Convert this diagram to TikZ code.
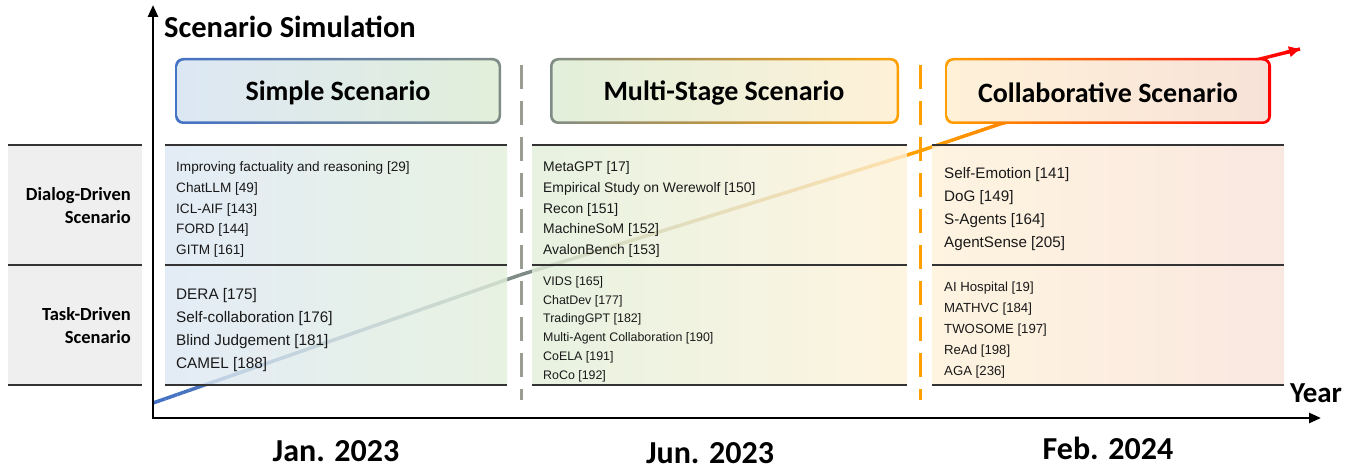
\documentclass[tikz,border=0pt]{standalone}
\usepackage{fontspec}
\setmainfont{Liberation Sans}
\newfontfamily\calib{Carlito}
\usetikzlibrary{arrows.meta,calc}
\definecolor{cBlue}{HTML}{4472C4}
\definecolor{cGray}{HTML}{7F8C86}
\definecolor{cOrange}{HTML}{FFA000}
\definecolor{cRed}{HTML}{FF0000}
\definecolor{pBlue}{HTML}{DCE7F4}
\definecolor{pGreen}{HTML}{E2EFDA}
\definecolor{pCream}{HTML}{FEF1D8}
\definecolor{pPeach}{HTML}{F8E2D8}
\definecolor{labGray}{HTML}{EFEFEF}
\definecolor{dashGray}{HTML}{9A9E92}
\newcommand\gradseg[5]{%
  \foreach \i in {0,...,#5}{%
    \pgfmathtruncatemacro\p{round(100*\i/#5)}%
    \draw[trend, color=#4!\p!#3] ($(#1)!{\i/(#5+1)}!(#2)$) -- ($(#1)!{(\i+1)/(#5+1)}!(#2)$);
  }}
\newcommand\fs[2]{\fontsize{#1}{#2}\selectfont}
\begin{document}
\begin{tikzpicture}[x=1pt,y=-1pt,
  trend/.style={line width=3.5pt},
  axis/.style={line width=2.6pt,-{Triangle[length=12pt,width=10pt]}},
  rule/.style={draw=black!80,line width=1.2pt},
  cell/.style={anchor=west,align=left,inner sep=0pt,text=black!90},
  hdr/.style={font=\calib\bfseries\fs{28}{30}},
  lab/.style={font=\calib\bfseries\fs{18.5}{23},align=right,anchor=east,inner sep=0pt},
  date/.style={font=\calib\bfseries\fs{32}{34}},
  vdash/.style={line width=3pt,dash pattern=on 24pt off 12pt}]
\useasboundingbox (0,0) rectangle (1360,470);
% trend curve
\coordinate (tA) at (153,403);
\coordinate (tB) at (520,275);
\coordinate (tC) at (920,151);
\coordinate (tE) at (1000,124);
\coordinate (tD) at (1300,49);
\gradseg{tA}{tB}{cBlue}{cGray}{29}
\gradseg{tB}{tC}{cGray}{cOrange}{29}
\gradseg{tC}{tE}{cOrange}{cOrange!85!cRed}{7}
\gradseg{tE}{tD}{cOrange!85!cRed}{cRed}{19}
\draw[line width=3.5pt,cRed,-{Triangle[length=11pt,width=10pt]}] ($(tE)!0.95!(tD)$) -- (tD);
% label column
\fill[labGray] (8,145) rectangle (142,385);
\draw[rule] (8,145) -- (142,145) (8,265) -- (142,265) (8,385) -- (142,385);
\node[lab] (dd) at (131,206) {Dialog-Driven\\Scenario};
\node[lab] (td) at (131,326) {Task-Driven\\Scenario};
% panels
\shade[left color=pBlue,middle color=white,right color=pGreen,fill opacity=0.8] (165,145) rectangle (507,385);
\shade[left color=pGreen,middle color=white,right color=pCream,fill opacity=0.8] (532,145) rectangle (907,385);
\shade[left color=pCream,middle color=white,right color=pPeach,fill opacity=0.8] (932,145) rectangle (1284,385);
\draw[rule] (165,145) -- (507,145) (165,265) -- (507,265) (165,385) -- (507,385);
\draw[rule] (532,145) -- (907,145) (532,265) -- (907,265) (532,385) -- (907,385);
\draw[rule] (932,145) -- (1284,145) (932,265) -- (1284,265) (932,385) -- (1284,385);
% dashed separators
\draw[vdash,dashGray] (521,65) -- (521,400);
\draw[vdash,cOrange] (920,65) -- (920,400);
% cells
\node[cell,font=\fs{13.6}{20.6}] (c11) at (176,209.5) {Improving factuality and reasoning [29]\\ChatLLM [49]\\ICL-AIF [143]\\FORD [144]\\GITM [161]};
\node[cell,font=\fs{15.3}{22.8}] (c12) at (176,330) {DERA [175]\\Self-collaboration [176]\\Blind Judgement [181]\\CAMEL [188]};
\node[cell,font=\fs{13.9}{20.8}] (c21) at (543,209.5) {MetaGPT [17]\\Empirical Study on Werewolf [150]\\Recon [151]\\MachineSoM [152]\\AvalonBench [153]};
\node[cell,font=\fs{12.4}{18.8}] (c22) at (543,329) {VIDS [165]\\ChatDev [177]\\TradingGPT [182]\\Multi-Agent Collaboration [190]\\CoELA [191]\\RoCo [192]};
\node[cell,font=\fs{15.2}{23}] (c31) at (944,209) {Self-Emotion [141]\\DoG [149]\\S-Agents [164]\\AgentSense [205]};
\node[cell,font=\fs{13.2}{20.8}] (c32) at (944,330) {AI Hospital [19]\\MATHVC [184]\\TWOSOME [197]\\ReAd [198]\\AGA [236]};
% header boxes
\shade[left color=cBlue,right color=cGray,rounded corners=8pt] (175,58) rectangle (501,124);
\shade[left color=pBlue,right color=pGreen,rounded corners=6.5pt] (177.5,60.5) rectangle (498.5,121.5);
\node[hdr] (h1) at (338,93) {Simple Scenario};
\shade[left color=cGray,right color=cOrange,rounded corners=8pt] (550,58) rectangle (899,124);
\shade[left color=pGreen,middle color=black!5,right color=pCream,rounded corners=6.5pt] (552.5,60.5) rectangle (896.5,121.5);
\node[hdr] (h2) at (724,93) {Multi-Stage Scenario};
\shade[left color=cOrange,right color=cRed,rounded corners=8pt] (945,58) rectangle (1271,124);
\shade[left color=pCream,middle color=white,right color=pPeach,rounded corners=6.5pt] (947.5,60.5) rectangle (1268.5,121.5);
\node[hdr] (h3) at (1108,93) {Collaborative Scenario};
% axes
\coordinate (O) at (153,418);
\coordinate (yT) at (153,5);
\coordinate (xT) at (1321,418);
\draw[axis] (O) -- (yT);
\draw[axis] ($(O)+(-1.3,0)$) -- (xT);
\node[font=\calib\bfseries\fs{30.5}{32},anchor=west,inner sep=0pt] (ys) at (164,27) {Scenario Simulation};
\node[font=\calib\bfseries\fs{29}{30},inner sep=0pt] (yr) at (1316,393) {Year};
% dates
\node[date] (d1) at (336,451) {Jan. 2023};
\node[date] (d2) at (710,453) {Jun. 2023};
\node[date] (d3) at (1108,448) {Feb. 2024};
\end{tikzpicture}
\end{document}
